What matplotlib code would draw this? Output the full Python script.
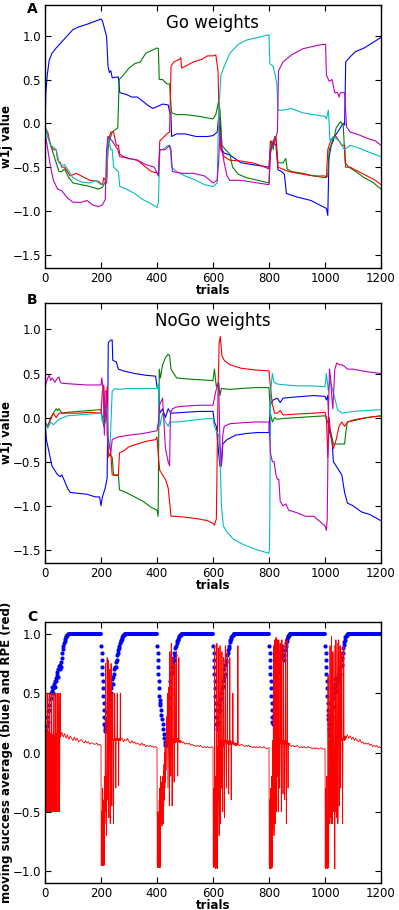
import numpy as np
import matplotlib
matplotlib.use("Agg")
import matplotlib.pyplot as plt

# ---------------- panel A: Go weights (trial, value) breakpoints ----------------
go_blue_t = [0, 3, 8, 15, 25, 40, 60, 80, 100, 120, 150, 175, 200, 205, 215, 220, 225, 230, 235, 240, 262, 267,
             290, 310, 330, 350, 370, 385, 400, 420, 440, 445, 450, 452, 470, 500, 540, 580, 600, 615, 620, 625,
             632, 640, 660, 700, 760, 800, 805, 815, 825, 832, 845, 855, 862, 900, 950, 980, 1005, 1010, 1014,
             1022, 1030, 1045, 1065, 1070, 1074, 1090, 1110, 1140, 1170, 1200]
go_blue_v = [-0.05, 0.35, 0.55, 0.72, 0.8, 0.86, 0.93, 1.0, 1.07, 1.1, 1.13, 1.16, 1.19, 1.17, 1.05, 0.99, 0.65, 0.58,
             0.6, 0.52, 0.53, 0.35, 0.33, 0.3, 0.3, 0.25, 0.2, 0.17, 0.19, 0.22, 0.21, 0.13, 0.1, -0.15, -0.12, -0.12,
             -0.15, -0.15, -0.14, -0.1, 0.07, 0.05, -0.3, -0.34, -0.36, -0.45, -0.48, -0.5, -0.3, -0.22, -0.25, -0.53,
             -0.55, -0.58, -0.8, -0.84, -0.88, -0.93, -0.97, -1.05, -0.4, -0.25, -0.17, -0.1, 0.0, -0.02, 0.7, 0.76,
             0.82, 0.86, 0.92, 0.98]

go_green_t = [0, 10, 25, 40, 50, 60, 70, 85, 100, 130, 160, 190, 205, 210, 220, 225, 230, 240, 260, 265, 280, 300,
              320, 340, 360, 380, 400, 405, 408, 420, 435, 445, 448, 452, 470, 500, 550, 600, 610, 620, 625, 632,
              645, 660, 670, 690, 720, 760, 800, 805, 810, 815, 820, 825, 832, 850, 860, 865, 880, 920, 960, 1000,
              1010, 1015, 1030, 1040, 1055, 1065, 1072, 1085, 1110, 1140, 1170, 1200]
go_green_v = [-0.05, -0.15, -0.3, -0.45, -0.55, -0.55, -0.52, -0.62, -0.68, -0.7, -0.72, -0.75, -0.73, -0.7, -0.65,
              -0.3, -0.2, -0.1, -0.05, 0.5, 0.55, 0.63, 0.68, 0.7, 0.8, 0.83, 0.86, 0.85, 0.5, 0.5, 0.45, 0.45, 0.3,
              0.12, 0.1, 0.1, 0.08, 0.05, 0.1, 0.25, 0.15, -0.25, -0.3, -0.35, -0.5, -0.58, -0.62, -0.65, -0.68,
              -0.3, -0.2, -0.3, -0.15, -0.2, -0.45, -0.45, -0.4, -0.52, -0.55, -0.57, -0.6, -0.62, -0.6, -0.3,
              -0.2, -0.05, 0.02, -0.02, -0.45, -0.5, -0.55, -0.62, -0.67, -0.75]

go_red_t = [0, 10, 20, 30, 40, 45, 55, 60, 70, 80, 90, 110, 130, 160, 190, 205, 210, 220, 225, 235, 245, 255, 262,
            267, 280, 300, 330, 360, 380, 405, 410, 420, 435, 445, 450, 460, 480, 485, 488, 500, 530, 560, 580, 600,
            610, 618, 622, 628, 640, 660, 700, 740, 770, 800, 805, 815, 825, 832, 870, 920, 960, 1000, 1005, 1010,
            1020, 1030, 1040, 1050, 1060, 1070, 1074, 1090, 1120, 1150, 1180, 1200]
go_red_v = [-0.05, -0.1, -0.25, -0.3, -0.3, -0.42, -0.45, -0.5, -0.5, -0.55, -0.6, -0.57, -0.6, -0.65, -0.66, -0.7,
            -0.62, -0.68, -0.2, -0.1, -0.1, -0.25, -0.25, -0.35, -0.38, -0.4, -0.42, -0.5, -0.55, -0.57, -0.2, -0.17,
            -0.12, -0.1, 0.65, 0.7, 0.73, 0.75, 0.63, 0.65, 0.7, 0.73, 0.77, 0.77, 0.78, 0.6, 0.0, -0.3, -0.38,
            -0.42, -0.43, -0.45, -0.48, -0.52, -0.2, -0.25, -0.15, -0.5, -0.55, -0.58, -0.6, -0.6, -0.62, -0.3,
            -0.2, -0.15, -0.15, -0.2, -0.25, -0.25, -0.5, -0.5, -0.55, -0.6, -0.65, -0.7]

go_cyan_t = [0, 10, 20, 30, 40, 50, 60, 70, 80, 100, 130, 160, 180, 200, 210, 220, 225, 235, 240, 245, 262, 267,
             290, 320, 350, 380, 400, 405, 410, 420, 440, 448, 452, 470, 500, 540, 570, 600, 615, 620, 628, 640,
             660, 690, 720, 760, 800, 803, 815, 822, 828, 832, 850, 880, 920, 960, 1000, 1005, 1012, 1018, 1030,
             1050, 1060, 1070, 1090, 1120, 1150, 1200]
go_cyan_v = [-0.02, -0.15, -0.25, -0.27, -0.3, -0.45, -0.48, -0.47, -0.52, -0.62, -0.67, -0.68, -0.65, -0.7, -0.68,
             -0.65, -0.15, -0.3, -0.3, -0.5, -0.55, -0.72, -0.75, -0.8, -0.87, -0.92, -0.96, -0.9, -0.3, -0.3,
             -0.25, -0.3, -0.5, -0.55, -0.6, -0.65, -0.7, -0.72, -0.68, 0.1, 0.55, 0.65, 0.8, 0.9, 0.95, 0.98,
             1.01, 0.68, 0.65, 0.55, 0.45, 0.15, 0.15, 0.17, 0.12, 0.1, 0.08, 0.05, 0.15, -0.2, -0.15, -0.2,
             -0.25, -0.3, -0.25, -0.28, -0.32, -0.38]

go_magenta_t = [0, 10, 20, 30, 45, 60, 80, 100, 130, 150, 170, 190, 205, 215, 220, 225, 240, 260, 267, 300, 330,
                360, 390, 405, 410, 430, 445, 450, 455, 490, 530, 570, 600, 615, 620, 625, 632, 640, 650, 660, 700,
                760, 800, 805, 815, 825, 830, 834, 850, 880, 920, 960, 990, 1002, 1005, 1015, 1025, 1035, 1045,
                1050, 1055, 1065, 1070, 1077, 1090, 1120, 1150, 1180, 1200]
go_magenta_v = [-0.1, -0.3, -0.5, -0.65, -0.75, -0.77, -0.85, -0.9, -0.9, -0.88, -0.93, -0.95, -0.93, -0.87, -0.3,
                -0.15, -0.2, -0.3, -0.38, -0.4, -0.42, -0.47, -0.5, -0.6, -0.3, -0.3, -0.25, -0.3, -0.55, -0.57,
                -0.57, -0.6, -0.68, -0.65, -0.45, -0.1, -0.3, -0.45, -0.6, -0.65, -0.65, -0.68, -0.7, -0.35, -0.2,
                -0.15, -0.1, 0.6, 0.7, 0.78, 0.85, 0.88, 0.9, 0.9, 0.55, 0.48, 0.5, 0.35, 0.35, 0.3, 0.35, 0.35,
                0.35, -0.04, -0.1, -0.13, -0.17, -0.2, -0.25]

# ---------------- panel B: NoGo weights ----------------
nogo_blue_t = [0, 5, 15, 25, 35, 45, 55, 60, 70, 80, 90, 120, 150, 180, 195, 200, 205, 215, 222, 226, 235, 240, 242,
               255, 262, 280, 320, 360, 395, 400, 405, 410, 420, 430, 440, 450, 500, 550, 600, 605, 612, 620, 625,
               630, 635, 650, 680, 720, 760, 800, 805, 815, 830, 840, 850, 880, 920, 960, 1000, 1005, 1010, 1015,
               1025, 1030, 1040, 1050, 1060, 1070, 1080, 1100, 1130, 1160, 1200]
nogo_blue_v = [-0.05, -0.25, -0.4, -0.55, -0.6, -0.65, -0.67, -0.65, -0.72, -0.8, -0.85, -0.86, -0.87, -0.9, -0.9,
               -1.0, -0.9, -0.8, -0.68, 0.85, 0.88, 0.88, 0.65, 0.63, 0.55, 0.53, 0.5, 0.48, 0.47, 0.35, 0.33,
               0.05, 0.1, 0.0, 0.1, 0.05, 0.06, 0.07, 0.07, -0.05, -0.1, -0.4, -0.55, -0.55, -0.3, -0.25, -0.2,
               -0.18, -0.17, -0.17, 0.15, 0.2, 0.22, 0.17, 0.22, 0.23, 0.24, 0.25, 0.24, 0.2, 0.25, -0.15, -0.25,
               -0.5, -0.55, -0.6, -0.65, -0.85, -0.97, -1.0, -1.07, -1.1, -1.17]

nogo_green_t = [0, 10, 20, 30, 40, 45, 50, 60, 80, 120, 160, 200, 205, 210, 215, 222, 226, 240, 245, 262, 266, 290,
                320, 350, 380, 400, 404, 408, 412, 420, 430, 440, 445, 450, 460, 470, 500, 550, 600, 605, 612, 620,
                625, 630, 660, 700, 750, 800, 805, 812, 820, 830, 850, 900, 950, 1000, 1010, 1020, 1030, 1050,
                1070, 1075, 1080, 1110, 1150, 1200]
nogo_green_v = [-0.05, -0.1, 0.0, 0.05, 0.1, 0.08, 0.1, 0.05, 0.06, 0.07, 0.08, 0.09, 0.0, -0.1, -0.05, 0.05, -0.4,
                -0.45, -0.65, -0.65, -0.82, -0.85, -0.9, -0.95, -1.02, -1.05, -1.12, 0.55, 0.45, 0.6, 0.68, 0.72,
                0.7, 0.55, 0.5, 0.45, 0.44, 0.43, 0.42, 0.55, 0.35, 0.4, 0.25, 0.33, 0.32, 0.33, 0.34, 0.34, 0.05,
                -0.05, 0.0, -0.02, -0.01, 0.0, 0.01, 0.02, -0.05, -0.15, -0.3, -0.3, -0.3, -0.15, -0.05, -0.03,
                0.0, 0.02]

nogo_red_t = [0, 10, 20, 30, 40, 50, 80, 120, 160, 200, 205, 210, 215, 222, 226, 235, 240, 262, 266, 280, 300, 330,
              360, 395, 400, 405, 410, 420, 430, 440, 450, 470, 500, 550, 580, 600, 605, 612, 618, 622, 626, 632,
              640, 660, 700, 750, 800, 805, 812, 820, 830, 840, 850, 900, 960, 1000, 1005, 1010, 1015, 1020, 1030,
              1040, 1050, 1060, 1070, 1080, 1110, 1150, 1200]
nogo_red_v = [-0.05, -0.1, -0.02, 0.05, 0.0, 0.05, 0.05, 0.05, 0.06, 0.05, 0.3, 0.37, 0.0, 0.35, -0.45, -0.4, -0.65,
              -0.66, -0.4, -0.38, -0.33, -0.3, -0.27, -0.25, -0.22, -0.45, -0.6, -0.65, -0.7, -0.8, -1.12, -1.12,
              -1.13, -1.15, -1.17, -1.2, -1.22, -1.15, 0.3, 0.85, 0.92, 0.7, 0.65, 0.6, 0.56, 0.54, 0.53, 0.35,
              0.15, 0.05, 0.05, 0.08, 0.03, 0.04, 0.05, 0.06, 0.0, -0.45, 0.0, -0.2, -0.35, -0.25, -0.1, -0.05,
              -0.1, -0.05, -0.02, 0.0, 0.02]

nogo_cyan_t = [0, 10, 20, 30, 50, 80, 120, 160, 200, 205, 215, 222, 226, 232, 240, 250, 262, 300, 350, 400, 405,
               410, 420, 430, 440, 445, 455, 470, 500, 550, 600, 605, 612, 620, 625, 630, 637, 650, 673, 708, 756,
               800, 802, 806, 812, 818, 830, 860, 900, 950, 1000, 1005, 1012, 1018, 1030, 1045, 1060, 1100, 1150,
               1200]
nogo_cyan_v = [-0.05, -0.12, -0.05, -0.08, -0.02, 0.02, 0.03, 0.04, 0.05, -0.05, 0.1, 0.12, -0.3, -0.35, 0.3, 0.33,
               0.32, 0.33, 0.33, 0.33, 0.38, -0.1, 0.05, -0.05, -0.1, -0.05, -0.05, -0.05, -0.04, -0.02, -0.01,
               -0.1, -0.15, -0.2, -0.4, -1.0, -1.23, -1.3, -1.38, -1.44, -1.5, -1.54, -1.45, 0.3, 0.5, 0.4, 0.38,
               0.37, 0.36, 0.36, 0.35, 0.5, 0.3, 0.43, 0.28, 0.09, 0.05, 0.07, 0.08, 0.09]

nogo_magenta_t = [0, 5, 10, 15, 20, 25, 30, 35, 45, 50, 55, 60, 100, 150, 200, 203, 208, 212, 215, 220, 222, 226,
                  235, 240, 260, 300, 350, 400, 405, 410, 420, 430, 440, 445, 448, 455, 470, 500, 550, 600, 610,
                  615, 620, 625, 630, 635, 640, 660, 700, 750, 800, 805, 812, 818, 825, 830, 835, 840, 850, 860,
                  870, 900, 930, 960, 1000, 1005, 1008, 1012, 1016, 1020, 1025, 1028, 1035, 1042, 1050, 1060, 1070,
                  1080, 1100, 1150, 1200]
nogo_magenta_v = [0.35, 0.4, 0.45, 0.48, 0.42, 0.45, 0.43, 0.4, 0.45, 0.46, 0.4, 0.39, 0.38, 0.37, 0.37, 0.45, 0.3,
                  -0.2, 0.3, 0.3, -0.2, -0.25, -0.4, -0.25, -0.22, -0.2, -0.18, -0.15, -0.05, 0.15, 0.22, -0.35,
                  -0.5, -0.55, 0.05, 0.1, 0.12, 0.13, 0.14, 0.14, 0.3, 0.35, 0.4, -0.3, -0.55, -0.2, -0.1, -0.07,
                  -0.06, -0.05, -0.05, -0.4, -0.5, -0.5, -0.65, -0.7, -0.7, -0.95, -1.0, -0.98, -1.05, -1.08, -1.12,
                  -1.12, -1.23, -1.28, -1.15, 0.0, 0.55, 0.45, 0.2, 0.1, 0.55, 0.62, 0.6, 0.6, 0.58, 0.55, 0.55,
                  0.52, 0.5]

# ---------------- panel C: moving success average (blue dots) ----------------
succ_start = [0, 201, 401, 601, 801, 1001]
succ_step = [2, 1, 1, 1, 1, 1]
succ_v0 = [0.08, 0.12, 0.18, 0.22, 0.3, 0.26, 0.35, 0.4, 0.36, 0.45, 0.5, 0.46, 0.52, 0.55, 0.5, 0.54, 0.58, 0.55,
           0.6, 0.63, 0.6, 0.65, 0.68, 0.64, 0.7, 0.73, 0.7, 0.74, 0.72, 0.76, 0.8, 0.84, 0.87, 0.9, 0.92, 0.94,
           0.96, 0.97, 0.98, 0.99, 0.99, 1.0]
succ_v1 = [0.9, 0.84, 0.78, 0.72, 0.66, 0.6, 0.54, 0.48, 0.42, 0.36, 0.3, 0.24, 0.18]
succ_v2 = [0.9, 0.84, 0.78, 0.72, 0.66, 0.6, 0.54, 0.48, 0.44, 0.42]
succ_v3 = [0.9, 0.84, 0.78, 0.72, 0.66, 0.6, 0.54, 0.48, 0.42, 0.36, 0.3, 0.24, 0.2]
succ_v4 = [0.9, 0.84, 0.78, 0.72, 0.66, 0.6, 0.54, 0.48, 0.42, 0.36, 0.3, 0.26]
succ_v5 = [0.9, 0.84, 0.78, 0.72, 0.66, 0.6, 0.54, 0.48, 0.42, 0.36, 0.32, 0.28]
# recovery after each reversal, every 2nd trial
rec_start = [214, 412, 614, 813, 1013]
rec_v1 = [0.22, 0.2, 0.28, 0.25, 0.34, 0.3, 0.38, 0.44, 0.4, 0.48, 0.54, 0.5, 0.58, 0.62, 0.58, 0.64, 0.7, 0.66,
          0.72, 0.76, 0.72, 0.78, 0.82, 0.86, 0.84, 0.88, 0.9, 0.92, 0.94, 0.95, 0.96, 0.97, 0.98, 0.99, 0.99, 1.0]
rec_v2 = [0.4, 0.36, 0.32, 0.28, 0.24, 0.2, 0.16, 0.12, 0.09, 0.06, 0.06, 0.1, 0.16, 0.22, 0.3, 0.38, 0.46, 0.54,
          0.6, 0.66, 0.72, 0.68, 0.76, 0.8, 0.78, 0.84, 0.82, 0.88, 0.9, 0.92, 0.94, 0.95, 0.96, 0.97, 0.98, 0.99,
          0.99, 1.0]
rec_v3 = [0.24, 0.3, 0.26, 0.34, 0.4, 0.36, 0.44, 0.5, 0.46, 0.54, 0.6, 0.56, 0.64, 0.7, 0.66, 0.74, 0.78, 0.76,
          0.82, 0.86, 0.84, 0.88, 0.9, 0.93, 0.95, 0.96, 0.97, 0.98, 0.99, 0.99, 1.0]
rec_v4 = [0.24, 0.3, 0.36, 0.32, 0.42, 0.5, 0.46, 0.56, 0.62, 0.58, 0.68, 0.74, 0.7, 0.78, 0.84, 0.8, 0.86, 0.9,
          0.86, 0.82, 0.78, 0.82, 0.86, 0.9, 0.92, 0.94, 0.96, 0.97, 0.98, 0.99, 0.99, 1.0]
rec_v5 = [0.24, 0.2, 0.16, 0.14, 0.18, 0.24, 0.3, 0.38, 0.46, 0.54, 0.5, 0.58, 0.62, 0.56, 0.52, 0.58, 0.64, 0.6,
          0.66, 0.7, 0.66, 0.72, 0.78, 0.74, 0.8, 0.84, 0.88, 0.91, 0.93, 0.95, 0.97, 0.98, 0.99, 0.99, 1.0]
# runs where the average sits at 1.0
plateau_start = [84, 286, 488, 674, 876, 1082]
plateau_end = [200, 400, 600, 800, 1000, 1200]

# ---------------- panel C: RPE (red line), one value per trial in each burst ----------------
burst_start = [0, 200, 400, 600, 800, 1000]
burst_v0 = [0.0, -0.5, 0.15, 0.5, -0.5, 0.18, -0.5, 0.15, 0.12, -0.5,
            0.5, 0.15, -0.5, 0.14, 0.17, -0.5, 0.15, 0.5, 0.12, -0.5,
            0.16, 0.13, -0.5, 0.15, 0.5, 0.14, -0.5, 0.12, 0.15, -0.5,
            0.17, 0.13, 0.5, 0.15, -0.5, 0.14, 0.12, -0.5, 0.15, 0.5,
            0.13, 0.16, -0.5, 0.14, 0.12, 0.5, 0.15, -0.5, 0.13, 0.16,
            0.5, 0.14, -0.5, 0.12, 0.15, 0.5, 0.13, 0.15]
burst_v1 = [0.06, -0.95, -0.5, -0.95, -0.6, -0.95, -0.3, -0.95, -0.7, -0.95,
            -0.4, -0.95, -0.5, -0.2, -0.6, -0.3, 0.75, -0.1, -0.5, -0.2,
            -0.7, 0.1, 0.8, -0.2, -0.4, 0.1, 0.78, -0.3, -0.55, 0.1,
            0.12, 0.7, 0.1, -0.6, 0.12, 0.1, 0.75, 0.1, 0.12, -0.45,
            0.1, 0.11, 0.5, 0.12, 0.1, -0.6, 0.1, 0.11, 0.12, 0.5,
            0.1, 0.12, 0.1, -0.3, 0.11, 0.1, 0.12, 0.1, 0.5, 0.11,
            0.1, 0.12, 0.1, -0.28, 0.11, 0.1, 0.12, 0.1, 0.11, 0.5,
            0.1, 0.12]
burst_v2 = [0.04, -0.95, -0.6, -0.97, -0.5, -0.95, -0.7, -0.97, -0.4, -0.95,
            -0.3, -0.97, -0.5, -0.2, -0.6, -0.35, -0.55, -0.25, -0.62, -0.3,
            -0.5, -0.2, -0.6, -0.15, -0.45, -0.1, -0.4, 0.0, -0.3, 0.05,
            -0.25, 0.1, -0.15, 0.08, 0.3, 0.1, 0.08, 0.5, 0.05, -0.3,
            0.1, 0.55, 0.08, 0.1, -0.45, 0.1, 0.85, 0.1, 0.08, -0.2,
            0.12, 0.92, 0.1, 0.08, -0.45, 0.1, 0.12, 0.8, 0.1, 0.08,
            0.12, -0.25, 0.1, 0.11, 0.75, 0.1, 0.12, 0.08, 0.1, 0.85,
            0.1, 0.09, 0.1, 0.12, -0.2, 0.1, 0.09, 0.11, 0.8, 0.1,
            0.09, 0.1, 0.08, 0.1, 0.09]
burst_v3 = [0.04, -0.95, -0.5, -0.97, -0.3, -0.95, 0.9, -0.6, -0.97, -0.4,
            -0.98, -0.2, -0.97, -0.5, 0.92, -0.3, -0.98, -0.6, 0.05, -0.4,
            0.88, -0.2, -0.7, 0.1, -0.45, 0.9, 0.05, -0.6, 0.1, 0.08,
            -0.3, 0.08, 0.85, 0.1, 0.07, -0.5, 0.08, 0.1, 0.8, 0.05,
            0.08, -0.55, 0.1, 0.08, 0.9, 0.1, 0.08, 0.07, -0.3, 0.1,
            0.07, 0.85, 0.09, 0.08, 0.1, 0.08, -0.35, 0.08, 0.1, 0.07,
            0.8, 0.08, 0.1, 0.07, 0.08, -0.4, 0.09, 0.07, 0.08, 0.1,
            0.07, 0.5, 0.08, 0.07, 0.09, 0.07, 0.08, 0.07, 0.06, 0.08,
            0.07, 0.06, 0.08, 0.07, 0.06, 0.07, 0.06, 0.08, 0.07, 0.9,
            0.07, 0.06]
burst_v4 = [0.04, -0.95, -0.4, -0.98, -0.6, -0.97, -0.3, -0.98, -0.7, -0.95,
            -0.2, -0.97, -0.5, 0.1, -0.65, -0.2, 0.9, -0.4, -0.7, 0.05,
            -0.3, 0.95, -0.6, 0.1, -0.4, 0.97, 0.05, -0.5, 0.1, 0.95,
            -0.2, 0.08, 0.07, -0.5, 0.1, 0.95, 0.08, 0.1, -0.3, 0.1,
            0.92, 0.08, 0.1, 0.09, -0.5, 0.09, 0.95, 0.08, 0.1, 0.07,
            -0.35, 0.09, 0.9, 0.08, 0.07, 0.1, -0.4, 0.08, 0.09, 0.95,
            0.07, 0.08, -0.6, 0.09, 0.07, 0.95, 0.08, 0.07, -0.3, 0.08,
            0.07, 0.06, 0.08, 0.07]
burst_v5 = [0.03, -0.97, -0.3, -0.98, -0.5, -0.97, -0.2, -0.95, -0.6, -0.98,
            -0.3, 0.65, -0.5, -0.97, -0.2, -0.6, 0.1, -0.4, 0.9, -0.3,
            -0.55, 0.05, -0.6, 0.98, -0.2, -0.45, 0.1, -0.6, 0.85, -0.3,
            0.05, -0.5, 0.1, 0.9, -0.2, -0.98, 0.05, -0.5, 0.1, 0.95,
            -0.3, 0.1, -0.55, 0.08, 0.92, 0.1, -0.6, 0.12, 0.1, 0.95,
            0.08, -0.45, 0.12, 0.1, 0.9, 0.11, -0.3, 0.12, 0.1, 0.13,
            0.85, 0.12, 0.1, -0.6, 0.12, 0.11, 0.13, 0.9, 0.12, 0.1,
            0.13, 0.12, 0.14, 0.11, 0.13, 0.12]
# slowly decaying baseline between bursts, every 5th trial
base_start = [60, 275, 485, 697, 875, 1080]
base_v0 = [0.17, 0.13, 0.16, 0.12, 0.15, 0.11, 0.14, 0.12, 0.1, 0.13, 0.1, 0.12, 0.09, 0.1, 0.11, 0.09, 0.08, 0.1,
           0.08, 0.09, 0.07, 0.08, 0.08, 0.07, 0.07, 0.08, 0.06, 0.07, 0.06]
base_v1 = [0.12, 0.09, 0.11, 0.1, 0.12, 0.09, 0.08, 0.1, 0.08, 0.09, 0.07, 0.08, 0.07, 0.06, 0.08, 0.06, 0.07, 0.05,
           0.06, 0.05, 0.06, 0.05, 0.05, 0.04, 0.05, 0.04]
base_v2 = [0.1, 0.08, 0.09, 0.07, 0.08, 0.07, 0.08, 0.06, 0.07, 0.06, 0.06, 0.05, 0.06, 0.05, 0.06, 0.05, 0.04, 0.05,
           0.04, 0.05, 0.04, 0.04, 0.05, 0.04]
base_v3 = [0.06, 0.07, 0.06, 0.05, 0.06, 0.05, 0.06, 0.05, 0.05, 0.04, 0.05, 0.04, 0.05, 0.04, 0.05, 0.04, 0.04,
           0.05, 0.04, 0.03, 0.04]
base_v4 = [0.06, 0.05, 0.06, 0.05, 0.05, 0.06, 0.05, 0.04, 0.05, 0.04, 0.05, 0.04, 0.04, 0.05, 0.04, 0.04, 0.03,
           0.04, 0.03, 0.04, 0.03, 0.03, 0.04, 0.03, 0.03, 0.03]
base_v5 = [0.15, 0.12, 0.14, 0.11, 0.13, 0.1, 0.12, 0.1, 0.09, 0.11, 0.08, 0.09, 0.07, 0.08, 0.07, 0.08, 0.06, 0.07,
           0.05, 0.06, 0.05, 0.06, 0.04, 0.05, 0.04]

COLORS = ['b', 'g', 'r', 'c', 'm']
TICK_FS = 8.5
LABEL_FS = 8.5


def style_axes(ax, ylim, yticks):
    ax.set_xlim(0, 1200)
    ax.set_ylim(*ylim)
    ax.set_xticks([0, 200, 400, 600, 800, 1000, 1200])
    ax.set_yticks(yticks)
    ax.tick_params(direction='in', top=True, right=True, length=4, width=0.8,
                   labelsize=TICK_FS, pad=3)
    for s in ax.spines.values():
        s.set_linewidth(1.0)
    ax.set_xlabel('trials', fontsize=LABEL_FS, fontweight='bold', labelpad=-1)


def weights_panel(ax, series, title, ylim):
    for (t, v), c in zip(series, COLORS):
        ax.plot(t, v, color=c, lw=0.8)
    style_axes(ax, ylim, [-1.5, -1.0, -0.5, 0.0, 0.5, 1.0])
    ax.text(0.5, 0.93, title, transform=ax.transAxes, ha='center', va='center', fontsize=12)
    ax.set_ylabel('w1j value', fontsize=LABEL_FS, fontweight='bold')
    ax.yaxis.set_label_coords(-0.095, 0.5)


def main():
    fig = plt.figure(figsize=(3.99, 9.10), dpi=100)
    left, width = 45 / 399, 336 / 399
    ax_a = fig.add_axes([left, 1 - 268 / 910, width, 263 / 910])
    ax_b = fig.add_axes([left, 1 - 563 / 910, width, 260 / 910])
    ax_c = fig.add_axes([left, 1 - 883 / 910, width, 261 / 910])

    weights_panel(ax_a, [(go_blue_t, go_blue_v), (go_green_t, go_green_v), (go_red_t, go_red_v),
                         (go_cyan_t, go_cyan_v), (go_magenta_t, go_magenta_v)],
                  'Go weights', (-1.65, 1.35))
    weights_panel(ax_b, [(nogo_blue_t, nogo_blue_v), (nogo_green_t, nogo_green_v), (nogo_red_t, nogo_red_v),
                         (nogo_cyan_t, nogo_cyan_v), (nogo_magenta_t, nogo_magenta_v)],
                  'NoGo weights', (-1.65, 1.3))

    # panel C: blue dots
    succ_all = [succ_v0, succ_v1, succ_v2, succ_v3, succ_v4, succ_v5]
    for s, step, vals in zip(succ_start, succ_step, succ_all):
        t = s + step * np.arange(len(vals))
        ax_c.plot(t, vals, 'o', color='b', ms=3.0, mew=0)
    for s, vals in zip(rec_start, [rec_v1, rec_v2, rec_v3, rec_v4, rec_v5]):
        t = s + 2 * np.arange(len(vals))
        ax_c.plot(t, vals, 'o', color='b', ms=3.0, mew=0)
    for s, e in zip(plateau_start, plateau_end):
        ax_c.plot([s, e], [1.0, 1.0], color='b', lw=2.9, solid_capstyle='round')

    # panel C: red RPE line
    rpe_t, rpe_v = [], []
    bursts = [burst_v0, burst_v1, burst_v2, burst_v3, burst_v4, burst_v5]
    bases = [base_v0, base_v1, base_v2, base_v3, base_v4, base_v5]
    for bs, bv, ks, kv in zip(burst_start, bursts, base_start, bases):
        rpe_t += list(bs + np.arange(len(bv)))
        rpe_v += bv
        rpe_t += list(ks + 5 * np.arange(len(kv)))
        rpe_v += kv
    ax_c.plot(rpe_t, rpe_v, color='r', lw=0.6)

    style_axes(ax_c, (-1.1, 1.1), [-1.0, -0.5, 0.0, 0.5, 1.0])
    ax_c.set_ylabel('moving success average (blue) and RPE (red)', fontsize=LABEL_FS, fontweight='bold')
    ax_c.yaxis.set_label_coords(-0.095, 0.5)

    for lab, y in zip(['A', 'B', 'C'], [2, 293, 610]):
        fig.text(27 / 399, 1 - y / 910, lab, fontsize=10, fontweight='bold', ha='left', va='top')

    fig.savefig('out.png', dpi=100)


if __name__ == '__main__':
    main()
